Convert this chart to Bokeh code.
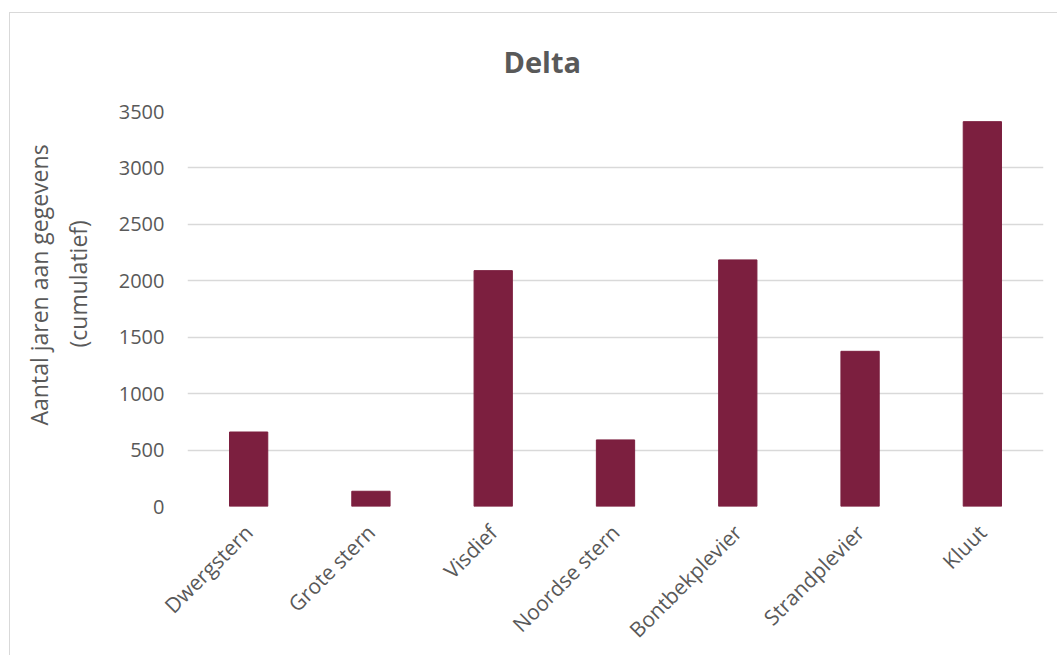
from bokeh.plotting import figure
from bokeh.models import FactorRange, Range1d, FixedTicker, ColumnDataSource, Title
from bokeh.embed import file_html
from bokeh.resources import INLINE

# Cumulative number of data-years per breeding bird species in the Delta
species = ["Dwergstern", "Grote stern", "Visdief", "Noordse stern",
           "Bontbekplevier", "Strandplevier", "Kluut"]
years_cumulative = [660, 135, 2090, 590, 2185, 1375, 3410]
y_ticks = [0, 500, 1000, 1500, 2000, 2500, 3000, 3500]
y_title_lines = ["Aantal jaren aan gegevens", "(cumulatief)"]

TEXT = "#595959"
GRID = "#D9D9D9"
BAR = "#7C1F3F"
FONT = "Open Sans"

source = ColumnDataSource(data=dict(species=species, value=years_cumulative))

p = figure(
    width=1048, height=643,
    x_range=FactorRange(*species, range_padding=0),
    y_range=Range1d(0, 3500),
    output_backend="svg", toolbar_location=None,
    min_border_left=177, min_border_right=15,
    min_border_top=98, min_border_bottom=150,
)
p.margin = (12, 0, 0, 9)
p.styles = {"border-left": "1px solid #D9D9D9", "border-top": "1px solid #D9D9D9"}

p.vbar(x="species", top="value", width=0.313, source=source,
       fill_color=BAR, line_color=BAR)

# title
p.title.text = "Delta"
p.title.align = "left"
p.title.offset = 316
p.title.standoff = 57
p.title.vertical_align = "top"
p.title.text_font = FONT
p.title.text_font_size = "29px"
p.title.text_font_style = "bold"
p.title.text_color = TEXT

p.outline_line_color = None
p.background_fill_color = "white"
p.border_fill_color = "white"

# grid
p.xgrid.grid_line_color = None
p.ygrid.grid_line_color = GRID
p.ygrid.grid_line_width = 1.5

# y axis
p.yaxis.ticker = FixedTicker(ticks=y_ticks)
p.yaxis.axis_line_color = None
p.yaxis.major_tick_line_color = None
p.yaxis.minor_tick_line_color = None
p.yaxis.major_tick_out = 0
p.yaxis.major_tick_in = 0
p.yaxis.major_label_standoff = 23
p.yaxis.major_label_text_font = FONT
p.yaxis.major_label_text_font_size = "20px"
p.yaxis.major_label_text_color = TEXT

# two-line y-axis title, stacked outward from the tick labels
for line, standoff, offset in zip(reversed(y_title_lines), [44, -35], [159, 81]):
    p.add_layout(Title(
        text=line, align="left", offset=offset, standoff=standoff,
        text_font=FONT, text_font_size="23px", text_font_style="normal",
        text_color=TEXT,
    ), "left")

# x axis
p.xaxis.axis_line_color = None
p.xaxis.major_tick_line_color = None
p.xaxis.major_tick_out = 0
p.xaxis.major_tick_in = 0
p.xaxis.major_label_orientation = 0.785398
p.xaxis.major_label_standoff = 22
p.xaxis.major_label_text_font = FONT
p.xaxis.major_label_text_font_size = "21px"
p.xaxis.major_label_text_color = TEXT

open("out.html", "w").write(file_html(p, INLINE))
